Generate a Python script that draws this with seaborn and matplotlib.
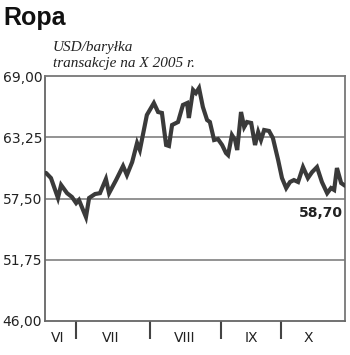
import matplotlib
matplotlib.use("Agg")
import matplotlib.pyplot as plt
import seaborn as sns
import pandas as pd

# trading-day position and price (USD/barrel)
days = [0.3, 1.7, 3.7, 4.6, 6.3, 7.7, 8.9, 9.7, 11.7, 12.6, 14.3, 15.7, 17.4, 18.3,
        20.3, 22.3, 23.4, 24.9, 26.3, 27.1, 29.1, 31.1, 32.3, 33.4, 34.6, 35.4, 36.3,
        38.0, 39.4, 40.6, 41.1, 42.3, 43.1, 44.0, 45.1, 46.3, 47.1, 48.3, 49.4, 50.6,
        51.7, 52.3, 53.4, 54.3, 54.9, 56.0, 56.9, 57.7, 58.9, 60.0, 60.9, 61.7, 62.6,
        64.0, 65.1, 66.6, 67.7, 68.9, 70.0, 71.1, 72.3, 73.7, 75.1, 76.3, 77.7, 79.1,
        80.6, 81.7, 82.6, 83.4, 84.6, 85.7]
prices = [59.90, 59.42, 57.55, 58.77, 58.00, 57.64, 57.07, 57.36, 55.76, 57.55, 57.92,
          58.00, 59.33, 58.00, 59.23, 60.55, 59.70, 60.92, 62.71, 62.05, 65.34, 66.46,
          65.62, 65.53, 62.52, 62.43, 64.40, 64.68, 66.28, 66.46, 65.06, 67.69, 67.40,
          67.87, 66.09, 64.87, 64.68, 62.99, 63.08, 62.52, 61.77, 61.58, 63.46, 62.99,
          62.05, 65.62, 64.21, 64.68, 64.59, 62.52, 63.74, 62.99, 63.93, 63.84, 63.18,
          61.11, 59.42, 58.48, 59.05, 59.23, 59.05, 60.45, 59.42, 59.98, 60.45, 59.05,
          58.00, 58.48, 58.30, 60.36, 58.95, 58.70]
y_ticks = [46.00, 51.75, 57.50, 63.25, 69.00]
y_labels = ["46,00", "51,75", "57,50", "63,25", "69,00"]
month_bounds = [8.9, 30.0, 50.3, 67.4]
month_centers = [3.6, 18.8, 40.0, 58.9, 75.1]
month_labels = ["VI", "VII", "VIII", "IX", "X"]
title = "Ropa"
subtitle1 = "USD/baryłka"
subtitle2 = "transakcje na X 2005 r."
last_label = "58,70"

df = pd.DataFrame({"day": days, "price": prices})

sns.set_style("white")
plt.rcParams["font.family"] = ["DejaVu Sans"]

fig = plt.figure(figsize=(3.5, 3.55), dpi=100)
ax = fig.add_axes([45/350, 34/355, 300/350, 245/355])

for v in y_ticks[1:-1]:
    ax.axhline(v, color="#8a8a8a", lw=1.3, zorder=1)

sns.lineplot(data=df, x="day", y="price", ax=ax, color="#3a3a3a", lw=3.0,
             solid_joinstyle="miter", zorder=3)

ax.set_xlim(0, 85.7)
ax.set_ylim(46, 69)
ax.set_xlabel("")
ax.set_ylabel("")

ax.set_yticks(y_ticks)
ax.set_yticklabels(y_labels, fontsize=10, color="#222222")
ax.tick_params(axis="y", length=0, pad=2)

ax.set_xticks(month_bounds)
ax.set_xticklabels([])
ax.tick_params(axis="x", which="major", bottom=True, length=13, width=1.5,
               color="#444444", direction="out")
ax.set_xticks(month_centers, minor=True)
ax.set_xticklabels(month_labels, minor=True, fontsize=10, color="#222222")
ax.tick_params(axis="x", which="minor", bottom=True, length=0, pad=7)

for s in ax.spines.values():
    s.set_visible(True)
    s.set_color("#777777")
    s.set_linewidth(1.3)
ax.spines["left"].set_color("#666666")
ax.spines["bottom"].set_color("#666666")

ax.annotate(last_label, xy=(days[-1], prices[-1]), xytext=(-2, -27),
            textcoords="offset pixels", ha="right", va="center",
            fontsize=10, fontweight="bold", color="#222222")

fig.text(3/350, 1 - 18/355, title, fontsize=18, fontweight="bold",
         family="Liberation Sans", va="center", ha="left", color="#111111")
fig.text(53/350, 1 - 47/355, subtitle1, fontsize=11, style="italic",
         family="Liberation Serif", va="center", ha="left", color="#222222")
fig.text(53/350, 1 - 63/355, subtitle2, fontsize=11, style="italic",
         family="Liberation Serif", va="center", ha="left", color="#222222")

fig.savefig("out.png", dpi=100)
